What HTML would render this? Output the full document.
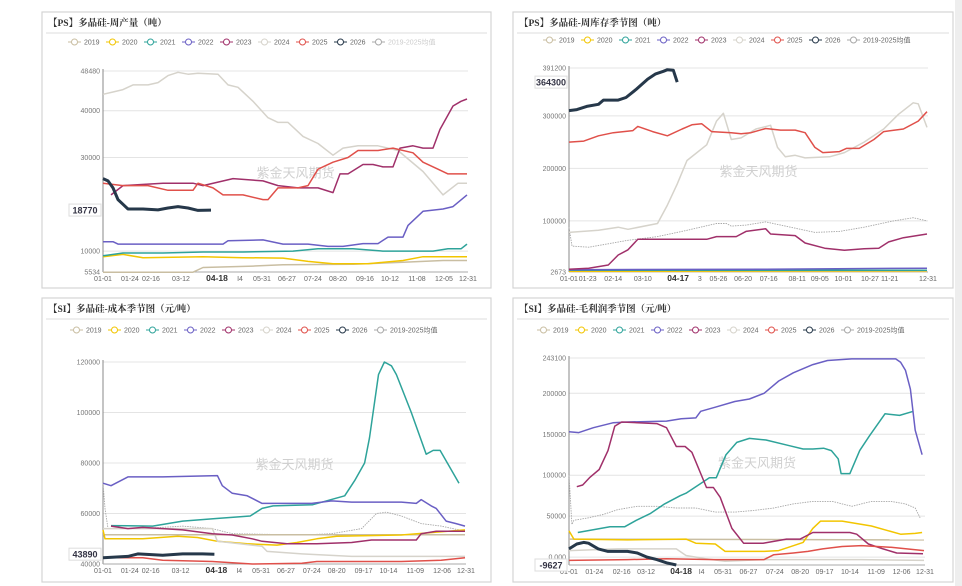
<!DOCTYPE html>
<html><head><meta charset="utf-8">
<style>
body{margin:0;background:#fff;width:962px;height:586px;overflow:hidden;font-family:"Liberation Sans","Noto Sans CJK SC",sans-serif;}
svg{display:block}
</style></head>
<body>
<svg id="chart" width="962" height="586" viewBox="0 0 962 586"></svg>
<script>
// ---------- category / legend ----------
const seriesNames = ["2019","2020","2021","2022","2023","2024","2025","2026","2019-2025均值"];
const seriesColors = ["#c9bea2","#f2c500","#2ea39a","#6a5fc4","#a0306a","#d6d3cb","#e0504a","#26384a","#a8a8a8"];

// ---------- Panel 1: weekly output (thousand t) ----------
const p1Ticks = [5.534,10,30,40,48.48];
const p1TickLabels = ["5534","10000","30000","40000","48480"];
const p1XDays = [0,27,48,78,114,137,159,184,210,235,262,287,314,341,365];
const p1XLabels = ["01-01","01-24","02-16","03-12","04-18","I4","05-31","06-27","07-24","08-20","09-16","10-12","11-08","12-05","12-31"];
const p1_2019 = [[0,5.5],[90,5.5],[100,6.5],[150,6.8],[180,7.1],[250,7.2],[300,7.6],[340,8],[364,8]];
const p1_2020 = [[0,8.8],[20,9.3],[40,8.6],[100,8.8],[140,8.6],[180,8.5],[205,7.8],[230,7.3],[265,7.3],[300,8],[320,8.8],[364,8.8]];
const p1_2021 = [[0,9],[20,9.6],[60,9.6],[100,9.8],[140,9.8],[190,10],[215,10.5],[250,10.5],[280,10],[330,10],[345,10.5],[358,10.5],[364,11.5]];
const p1_2022 = [[0,12],[10,12],[15,11.5],[80,11.5],[120,11.5],[125,12.2],[160,12.4],[180,11.5],[205,11.5],[225,11],[240,11],[260,11.6],[275,11.6],[285,13],[300,13],[305,15.5],[320,18.5],[340,19],[350,19.5],[364,22]];
const p1_2023 = [[8,22],[20,24],[60,24.5],[90,24.5],[100,24],[130,25.5],[160,25],[175,24],[195,23.5],[215,23.5],[230,22.5],[237,26.5],[245,26.5],[260,28.5],[270,28.5],[280,28],[290,28],[297,32],[310,32.5],[320,32],[330,32],[337,36],[350,41],[358,42],[364,42.5]];
const p1_2024 = [[0,43.5],[10,44],[20,44.5],[30,45.5],[45,45.5],[55,46],[65,47.5],[75,48.2],[85,47.8],[95,48],[115,47.8],[125,45.5],[135,45],[150,42],[165,38.5],[175,37.5],[185,37.5],[200,34.5],[215,33],[230,30.5],[240,32],[255,32.5],[275,32.5],[295,31.5],[320,27],[340,22],[355,24.5],[364,24.5]];
const p1_2025 = [[0,24.5],[20,24],[45,24],[65,23],[90,23],[95,24.5],[110,23.5],[120,22],[140,22],[160,21],[165,21],[175,23.5],[195,23.5],[205,24],[215,27.5],[230,29],[245,30],[255,31.5],[275,31.5],[290,32],[310,31],[320,29],[335,27.5],[345,26.5],[364,26.5]];
const p1_2026 = [[0,25.5],[5,25],[10,23.5],[15,21],[20,20],[25,19],[40,19],[55,18.8],[65,19.2],[75,19.5],[85,19.2],[95,18.7],[108,18.77]];
const p1_avg = [];

// ---------- Panel 2: weekly inventory (thousand t) ----------
const p2Ticks = [2.673,100,200,300,391.2];
const p2TickLabels = ["2673","100000","200000","300000","391200"];
const p2XDays = [0,19,45,75,111,133,152,177,203,232,255,279,306,326,365];
const p2XLabels = ["01-01","01-23","02-14","03-10","04-17","3","05-26","06-20","07-16","08-11","09-05","10-01","10-27","11-21","12-31"];
const p2_2019 = [[0,3],[364,3]];
const p2_2020 = [[0,4],[364,5]];
const p2_2021 = [[0,6],[364,6]];
const p2_2022 = [[0,7],[200,8],[364,10]];
const p2_2023 = [[0,8],[20,10],[40,16],[50,35],[60,45],[70,65],[140,65],[150,70],[170,70],[180,80],[200,85],[205,75],[230,72],[240,58],[260,48],[280,44],[300,47],[315,48],[325,60],[340,68],[364,75]];
const p2_2024 = [[0,78],[30,82],[50,88],[60,84],[90,95],[100,130],[110,170],[120,215],[140,245],[150,290],[157,305],[165,255],[175,258],[190,275],[205,282],[212,240],[220,222],[230,225],[240,220],[265,222],[280,230],[300,250],[320,275],[335,303],[350,325],[355,323],[364,278]];
const p2_2025 = [[0,250],[15,252],[30,262],[45,268],[65,272],[70,280],[85,270],[100,262],[115,275],[125,283],[135,285],[145,270],[165,268],[175,266],[185,268],[200,276],[215,273],[230,273],[240,268],[250,240],[258,230],[275,232],[282,238],[295,238],[310,255],[320,270],[340,275],[355,290],[364,308]];
const p2_2026 = [[0,310],[8,312],[18,318],[30,322],[35,330],[50,330],[58,335],[68,350],[80,370],[88,380],[96,385],[100,388],[106,387],[110,364.3]];
const p2_avg = [[0,88],[3,52],[20,50],[60,63],[90,70],[120,82],[150,95],[160,95],[165,90],[180,92],[200,98],[220,90],[250,78],[275,80],[300,88],[330,100],[350,106],[364,100]];

// ---------- Panel 3: cost (thousand CNY/t) ----------
const p3Ticks = [40,60,80,100,120];
const p3TickLabels = ["40000","60000","80000","100000","120000"];
const p3XDays = [0,27,48,78,114,137,159,184,210,235,262,287,314,341,365];
const p3XLabels = ["01-01","01-24","02-16","03-12","04-18","I4","05-31","06-27","07-24","08-20","09-17","10-14","11-09","12-06","12-31"];
const p3_2019 = [[0,51.6],[364,51.6]];
const p3_2020 = [[0,53.5],[2,50],[40,50],[75,51],[95,50.5],[115,49],[145,48],[175,47.5],[195,48.5],[215,50],[235,51],[300,51.5],[364,53.5]];
const p3_2021 = [[8,55.2],[50,55],[80,57],[114,58],[148,59],[160,62],[171,63],[211,63.5],[243,67],[253,73],[263,80],[268,90],[277,115],[283,120],[290,118.5],[295,115],[310,100],[325,83.5],[332,85],[339,85],[358,72]];
const p3_2022 = [[0,72],[8,71],[25,74.5],[60,74.5],[115,75],[120,71],[130,68],[145,67],[160,64],[175,64],[210,64],[230,65],[250,64.5],[300,64.5],[315,64],[320,65.5],[330,63],[335,62],[345,57],[355,56],[364,55]];
const p3_2023 = [[8,55],[25,54],[40,54.5],[80,53.5],[110,52],[130,51.5],[150,50],[160,49],[185,48],[215,48],[250,48.5],[270,49.5],[315,49.5],[320,52],[335,53],[364,53]];
const p3_2024 = [[0,54],[40,54],[110,54],[115,49],[160,47],[165,45],[200,44],[250,43],[364,43]];
const p3_2025 = [[0,42.5],[40,42.5],[60,41.5],[110,41],[150,40],[200,40.3],[215,41],[250,41],[300,41],[340,41.5],[364,42.5]];
const p3_2026 = [[0,42.5],[25,43],[35,44],[60,43.5],[80,44],[100,44],[112,43.89]];
const p3_avg = [[0,72],[2,62],[5,54],[40,54],[80,55],[110,54],[130,52],[200,51.5],[230,52],[260,54],[275,60],[285,60.5],[300,59],[320,56],[340,55],[364,53]];

// ---------- Panel 4: gross profit (thousand CNY/t) ----------
const p4Ticks = [0,50,100,150,200,243.1];
const p4TickLabels = ["0.000","50000","100000","150000","200000","243100"];
const p4XDays = [0,26,54,79,115,136,158,184,211,237,262,288,315,341,365];
const p4XLabels = ["01-01","01-24","02-16","03-12","04-18","I4","05-31","06-27","07-24","08-20","09-17","10-14","11-09","12-06","12-31"];
const p4_2019 = [[0,22],[364,21]];
const p4_2020 = [[0,32],[5,22],[60,21],[120,22],[130,17],[150,16],[160,7],[200,7],[215,8],[225,12],[240,18],[250,35],[258,44],[280,44],[310,38],[340,28],[355,29],[362,30]];
const p4_2021 = [[9,30],[42,37],[57,37],[69,45],[83,53],[98,65],[114,75],[120,78],[144,97],[151,97],[161,125],[172,140],[185,145],[202,143],[226,136],[240,132],[250,132],[261,133],[269,130],[276,120],[279,102],[288,102],[298,130],[308,148],[324,175],[339,173],[353,178]];
const p4_2022 = [[0,153],[10,152],[25,158],[45,164],[60,165],[100,166],[115,169],[130,170],[135,178],[150,183],[170,190],[185,193],[200,200],[215,215],[230,225],[250,235],[265,240],[290,242],[335,242],[340,238],[345,228],[350,205],[355,155],[362,125]];
const p4_2023 = [[8,86],[14,88],[21,97],[31,107],[40,130],[47,160],[54,165],[90,163],[100,158],[110,135],[119,135],[126,128],[141,85],[148,85],[155,73],[167,35],[179,17],[199,17],[223,22],[237,22],[250,30],[288,30],[295,28],[307,16],[322,10],[336,5],[363,4]];
const p4_2024 = [[0,8],[50,10],[110,10],[120,2],[140,-2],[160,-5],[200,-3],[300,-3],[364,-4]];
const p4_2025 = [[0,-4],[60,-3],[100,-2],[150,-3],[200,-3],[210,3],[230,5],[245,7],[260,10],[280,13],[300,14],[330,12],[364,8]];
const p4_2026 = [[0,10],[8,16],[15,18],[20,17],[30,10],[40,7],[60,7],[70,5],[80,0],[90,-3],[100,-7],[110,-9.627]];
const p4_avg = [[0,100],[3,40],[5,45],[20,48],[35,52],[50,58],[70,62],[90,62],[110,60],[130,60],[150,55],[170,55],[190,57],[210,60],[230,65],[250,68],[270,68],[290,62],[310,68],[330,68],[345,65],[355,60],[360,48]];

const panels = [
 {id:"weekly-output", title:"【PS】多晶硅-周产量（吨）", card:[42,12,449,276], L:103,R:468,T:71,B:272, ymin:5.534,ymax:48.48, ticks:p1Ticks, tl:p1TickLabels, xd:p1XDays, xl:p1XLabels, bold:4, last:"18770",
  series:[p1_2019,p1_2020,p1_2021,p1_2022,p1_2023,p1_2024,p1_2025,p1_2026,p1_avg], legX:68, legY:42},
 {id:"weekly-inventory", title:"【PS】多晶硅-周库存季节图（吨）", card:[513,12,440,276], L:569,R:928,T:68,B:272, ymin:2.673,ymax:391.2, ticks:p2Ticks, tl:p2TickLabels, xd:p2XDays, xl:p2XLabels, bold:4, last:"364300",
  series:[p2_2019,p2_2020,p2_2021,p2_2022,p2_2023,p2_2024,p2_2025,p2_2026,p2_avg], legX:543, legY:40},
 {id:"cost-seasonal", title:"【SI】多晶硅-成本季节图（元/吨）", card:[42,298,449,284], L:103,R:466,T:362,B:564, ymin:40,ymax:120, ticks:p3Ticks, tl:p3TickLabels, xd:p3XDays, xl:p3XLabels, bold:4, last:"43890",
  series:[p3_2019,p3_2020,p3_2021,p3_2022,p3_2023,p3_2024,p3_2025,p3_2026,p3_avg], legX:70, legY:330},
 {id:"gross-profit-seasonal", title:"【SI】多晶硅-毛利润季节图（元/吨）", card:[513,298,440,284], L:569,R:925,T:358,B:565, ymin:-9.627,ymax:243.1, ticks:p4Ticks, tl:p4TickLabels, xd:p4XDays, xl:p4XLabels, bold:4, last:"-9627",
  series:[p4_2019,p4_2020,p4_2021,p4_2022,p4_2023,p4_2024,p4_2025,p4_2026,p4_avg], legX:537, legY:330}
];

const NS="http://www.w3.org/2000/svg";
const svg=document.getElementById("chart");
function mk(tag,attrs,parent){const e=document.createElementNS(NS,tag);for(const k in attrs)e.setAttribute(k,attrs[k]);(parent||svg).appendChild(e);return e;}

// right gray strip
const strip=mk("rect",{x:955,y:0,width:7,height:586,fill:"#eeeeee"});



panels.forEach(p=>{
  const g=mk("g",{});
  
  
  const c=p.card;
  const card=mk("rect",{x:c[0],y:c[1],width:c[2],height:c[3],fill:"#fff",stroke:"#d4d4d4","stroke-width":1.2},g);
  
  
  const t=mk("text",{x:c[0]+6,y:c[1]+14,"font-size":"9.5","font-weight":"bold",fill:"#333","font-family":"'Liberation Serif','Noto Serif CJK SC',serif"},g);
  t.textContent=p.title;
  
  
  const hl=mk("line",{x1:c[0]+4,x2:c[0]+c[2]-4,y1:c[1]+21,y2:c[1]+21,stroke:"#ddd"},g);
  
  
  // legend
  let lx=p.legX;
  seriesNames.forEach((n,i)=>{
    const lg=mk("g",{},g);
    
    
    mk("line",{x1:lx,x2:lx+13,y1:p.legY,y2:p.legY,stroke:seriesColors[i],"stroke-width":1},lg);
    mk("circle",{cx:lx+6.5,cy:p.legY,r:3,fill:"#fff",stroke:seriesColors[i],"stroke-width":1},lg);
    const lt=mk("text",{x:lx+16,y:p.legY+2.5,"font-size":"7",fill:i===8&&p.id==="weekly-output"?"#ccc":"#666"},lg);
    lt.textContent=n;
    lx+= i===8?80:38;
  });
  const sx=d=>p.L+(d/365)*(p.R-p.L);
  const sy=v=>p.B-(v-p.ymin)/(p.ymax-p.ymin)*(p.B-p.T);
  // grid & y ticks
  p.ticks.forEach((v,i)=>{
    const gl=mk("line",{x1:p.L,x2:p.R,y1:sy(v),y2:sy(v),stroke:"#e4e4e4"},g);
    
    
    const tt=mk("text",{x:p.L-3,y:sy(v)+2.5,"font-size":"7","text-anchor":"end",fill:"#777"},g);
    tt.textContent=p.tl[i];
    
    
  });
  const ax=mk("line",{x1:p.L,x2:p.L,y1:p.T-2,y2:p.B,stroke:"#888"},g);
  
  
  const xa=mk("line",{x1:p.L,x2:p.R,y1:p.B,y2:p.B,stroke:"#aaa"},g);
  
  
  p.xd.forEach((d,i)=>{
    const b=i===p.bold;
    const xt=mk("text",{x:sx(d),y:p.B+9,"font-size":b?"8.5":"7","font-weight":b?"bold":"normal","text-anchor":"middle",fill:b?"#333":"#666"},g);
    xt.textContent=p.xl[i];
    
    
  });
  // watermark
  const wm=mk("text",{x:(p.L+p.R)/2+10,y:(p.T+p.B)/2+6,"font-size":"13","text-anchor":"middle",fill:"#d0d0d0"},g);
  wm.textContent="紫金天风期货";
  
  
  // series: draw avg first, then others, 2026 last
  const order=[8,0,1,2,3,5,4,6,7];
  order.forEach(i=>{
    const s=p.series[i];
    if(!s||!s.length)return;
    const d=s.map((pt,k)=>(k?"L":"M")+sx(pt[0]).toFixed(1)+","+sy(pt[1]).toFixed(1)).join(" ");
    const path=mk("path",{d:d,fill:"none",stroke:seriesColors[i],"stroke-width":i===7?3:(i===8?0.9:1.5),"stroke-dasharray":i===8?"1.5,1":"none","stroke-linejoin":"round"},g);
    
    
  });
  // last value label
  const lastPt=p.series[7][p.series[7].length-1];
  const ly=sy(lastPt[1]);
  const bx=mk("rect",{x:p.L-34,y:ly-6,width:32,height:12,fill:"#fff",stroke:"#ddd"},g);
  
  
  const lv=mk("text",{x:p.L-18,y:ly+3.5,"font-size":"9","font-weight":"bold","text-anchor":"middle",fill:"#334"},g);
  lv.textContent=p.last;
  
  
});
</script>
</body></html>
